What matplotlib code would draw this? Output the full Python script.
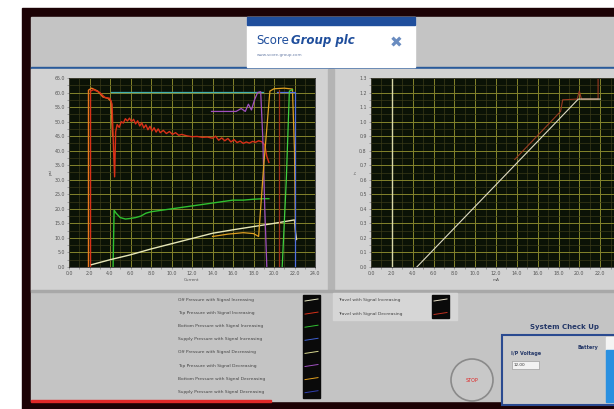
""" Recreates the valve test screen: pressure and travel plots with legends """

import matplotlib
matplotlib.use("Agg")
import matplotlib.pyplot as plt
from matplotlib.patches import Rectangle, Circle
from matplotlib.ticker import MultipleLocator

# ---- left chart: pressures vs current ----
offIncX = [1.9, 1.9, 2.2, 2.8, 3.3, 3.8, 4.1, 4.25]
offIncY = [0.0, 60.8, 61.5, 60.5, 58.5, 58.0, 57.0, 45.0]

topIncX = [2.1, 2.1, 2.4, 3.0, 3.5, 4.0, 4.2, 4.35, 4.45, 4.55, 4.7, 4.9, 5.1, 5.3, 5.5, 5.7,
           5.9, 6.1, 6.3, 6.5, 6.7, 6.9, 7.1, 7.3, 7.5, 7.7, 7.9, 8.1, 8.3, 8.5, 8.7, 8.9,
           9.2, 9.5, 9.8, 10.1, 10.4, 10.7, 11.0, 11.5, 12.0, 12.5, 13.0, 13.5, 14.0, 14.3,
           14.6, 14.9, 15.2, 15.5, 15.8, 16.1, 16.4, 16.7, 17.0, 17.3, 17.6, 17.9, 18.2,
           18.5, 18.8, 19.1, 19.3, 19.5]
topIncY = [0.0, 60.5, 61.0, 60.0, 58.3, 58.0, 56.0, 40.0, 31.0, 46.5, 49.0, 48.0, 50.0, 49.5,
           51.0, 50.2, 51.2, 50.0, 50.8, 49.2, 50.3, 48.5, 49.6, 47.8, 48.9, 47.2, 48.4,
           46.8, 47.9, 46.4, 47.5, 46.2, 47.0, 45.9, 46.6, 45.6, 46.2, 45.3, 45.6, 45.1,
           44.8, 44.9, 44.6, 44.7, 44.3, 45.0, 43.6, 44.4, 43.4, 44.2, 43.0, 43.8, 42.8,
           43.3, 42.5, 43.0, 42.6, 43.2, 42.9, 43.4, 43.1, 42.0, 38.0, 36.0]

bottomIncX = [4.3, 4.4, 4.6, 5.0, 5.5, 6.0, 6.5, 7.0, 7.5, 8.0, 9.0, 10.0, 11.0, 12.0, 13.0,
              14.0, 15.0, 16.0, 17.0, 18.0, 19.0, 19.5]
bottomIncY = [0.0, 19.5, 18.5, 17.0, 16.5, 16.7, 17.0, 17.5, 18.5, 19.0, 19.5, 20.0, 20.5,
              21.0, 21.5, 22.0, 22.5, 23.0, 23.0, 23.3, 23.5, 23.5]

supplyIncX = [4.1, 18.9]
supplyIncY = [60.2, 60.2]

offDecX = [2.2, 4.0, 6.0, 8.0, 10.0, 12.0, 14.0, 16.0, 18.0, 20.0, 22.0, 22.1, 22.2]
offDecY = [0.8, 2.5, 4.2, 6.2, 8.0, 9.8, 11.6, 12.8, 13.9, 15.0, 16.2, 12.0, 9.5]

topDecX = [13.9, 16.3, 16.8, 17.2, 17.5, 17.8, 18.1, 18.4, 18.7, 18.9, 19.1, 19.3]
topDecY = [53.5, 53.5, 54.5, 53.5, 56.0, 54.0, 57.5, 60.0, 60.3, 45.0, 20.0, 0.0]

bottomDecX = [14.0, 15.5, 17.0, 18.0, 18.5, 19.0, 19.6, 20.0, 21.0, 21.8, 22.0, 22.1]
bottomDecY = [10.5, 11.3, 11.8, 11.5, 10.5, 35.0, 60.5, 61.3, 61.5, 61.2, 40.0, 9.0]

supplyDecX = [20.3, 22.0, 22.0]
supplyDecY = [60.2, 60.2, 0.0]

greenDecX = [20.8, 21.2, 21.5, 21.8]
greenDecY = [0.0, 30.0, 60.5, 61.0]

redDecX = [20.5, 20.5]
redDecY = [61.0, 0.0]

# ---- right chart: travel vs mA ----
travelIncX = [4.4, 6.0, 8.0, 10.0, 12.0, 14.0, 16.0, 18.0, 19.9, 22.0]
travelIncY = [0.0, 0.119, 0.268, 0.417, 0.566, 0.715, 0.864, 1.013, 1.155, 1.155]

travelDecX = [13.8, 15.0, 16.2, 17.4, 18.2, 18.4, 19.8, 20.0, 20.2, 21.6, 21.8, 21.8]
travelDecY = [0.74, 0.83, 0.92, 1.01, 1.07, 1.15, 1.155, 1.21, 1.155, 1.155, 1.155, 1.30]

cursorX = [2.0, 2.0]
cursorY = [0.0, 1.3]

legendLeft = ["Off Pressure with Signal Increasing",
              "Top Pressure with Signal Increasing",
              "Bottom Pressure with Signal Increasing",
              "Supply Pressure with Signal Increasing",
              "Off Pressure with Signal Decreasing",
              "Top Pressure with Signal Decreasing",
              "Bottom Pressure with Signal Decreasing",
              "Supply Pressure with Signal Decreasing"]
legendLeftColors = ["#e8e8c0", "#d83018", "#30c030", "#4060d0",
                    "#d8d890", "#a050c0", "#e0a020", "#3040b0"]
legendRight = ["Travel with Signal Increasing", "Travel with Signal Decreasing"]
legendRightColors = ["#e8e0c8", "#c03020"]

W, H = 614, 409


def box(x0, y0, x1, y1):
    """ pixel box (top-left origin) -> figure fraction rect """
    return [x0 / W, 1 - y1 / H, (x1 - x0) / W, (y1 - y0) / H]


def styleChart(ax, ymax, ymajor, yfmt):
    ax.set_facecolor("#0b1206")
    ax.set_xlim(0, 24)
    ax.set_ylim(0, ymax)
    ax.xaxis.set_major_locator(MultipleLocator(2))
    ax.xaxis.set_minor_locator(MultipleLocator(1))
    ax.yaxis.set_major_locator(MultipleLocator(ymajor))
    ax.yaxis.set_minor_locator(MultipleLocator(ymajor / 2))
    ax.xaxis.set_major_formatter(matplotlib.ticker.FormatStrFormatter("%.1f"))
    ax.yaxis.set_major_formatter(matplotlib.ticker.FormatStrFormatter(yfmt))
    ax.grid(which="major", color="#84842c", lw=0.7)
    ax.grid(which="minor", color="#3a3a18", lw=0.5)
    ax.set_axisbelow(True)
    ax.tick_params(which="both", length=1.5, width=0.4, colors="#707070",
                   labelsize=3.4, pad=1.5, labelcolor="#555555")
    for s in ax.spines.values():
        s.set_color("#303030")
        s.set_linewidth(0.6)


fig = plt.figure(figsize=(6.14, 4.09), dpi=100)
fig.patch.set_facecolor("white")
bg = fig.add_axes([0, 0, 1, 1])
bg.set_xlim(0, W)
bg.set_ylim(H, 0)
bg.axis("off")

# frame and panels
bg.add_patch(Rectangle((22, 8), W - 22, H - 8, color="#1c0205"))
bg.add_patch(Rectangle((31, 17), W - 31, 384, color="#c4c4c4"))
bg.add_patch(Rectangle((31, 400), 240, 2, color="#e02828"))
bg.add_patch(Rectangle((31, 66.5), W - 31, 2.5, color="#2a5a9a"))
bg.add_patch(Rectangle((31, 69), 297, 221, color="#d2d2d2"))
bg.add_patch(Rectangle((334, 69), W - 334, 221, color="#d2d2d2"))
bg.add_patch(Rectangle((328, 69), 6, 221, color="#b4b4b4"))
bg.add_patch(Rectangle((31, 290), W - 31, 1.5, color="#a8a8a8"))

# logo
bg.add_patch(Rectangle((247, 17), 168, 50, color="white"))
bg.add_patch(Rectangle((247, 17), 168, 8, color="#1f4e9c"))
bg.text(256, 44, "Score", fontsize=8.5, color="#1f4e9c", va="baseline")
bg.text(291, 44, "Group plc", fontsize=8.5, color="#1f4e9c", va="baseline",
        fontweight="bold", fontstyle="italic")
bg.text(257, 56, "www.score-group.com", fontsize=3, color="#6a7fa8")
bg.text(396, 43, "\u2716", fontsize=11, color="#6a8cc0", ha="center", va="center")

# left chart
ax1 = fig.add_axes(box(69, 78, 315, 267))
styleChart(ax1, 65, 5, "%.1f")
ax1.plot(offIncX, offIncY, color="#e87820", lw=1.0)
ax1.plot(topIncX, topIncY, color="#d83018", lw=1.0)
ax1.plot(bottomIncX, bottomIncY, color="#30c030", lw=1.0)
ax1.plot(supplyIncX, supplyIncY, color="#40b0b0", lw=0.9)
ax1.plot(offDecX, offDecY, color="#e8e8b8", lw=1.0)
ax1.plot(topDecX, topDecY, color="#a050c0", lw=0.9)
ax1.plot(bottomDecX, bottomDecY, color="#e0a020", lw=0.9)
ax1.plot(supplyDecX, supplyDecY, color="#5070e0", lw=0.9)
ax1.plot(greenDecX, greenDecY, color="#40d040", lw=0.9)
ax1.plot(redDecX, redDecY, color="#a03018", lw=0.9)
ax1.set_xlabel("Current", fontsize=3, color="#555555", labelpad=1)
ax1.set_ylabel("psi", fontsize=3, color="#555555", labelpad=1)

# right chart
ax2 = fig.add_axes(box(371, 78, 621, 267))
styleChart(ax2, 1.3, 0.1, "%.1f")
ax2.set_xticks([0, 2, 4, 6, 8, 10, 12, 14, 16, 18, 20, 22])
ax2.plot(cursorX, cursorY, color="#d8d8a8", lw=1.0)
ax2.plot(travelDecX, travelDecY, color="#9a3a22", lw=0.8)
ax2.plot(travelIncX, travelIncY, color="#e0dcc4", lw=0.8)
ax2.set_xlabel("mA", fontsize=3, color="#555555", labelpad=1)
ax2.set_ylabel("in", fontsize=3, color="#555555", labelpad=1)

# legends
bg.add_patch(Rectangle((303, 295), 17, 103, color="#0a0a0a"))
for i, (name, col) in enumerate(zip(legendLeft, legendLeftColors)):
    y = 300 + i * 13.1
    bg.text(178, y, name, fontsize=3.2, color="#444444", va="center")
    bg.plot([305, 318], [y + 1, y - 1], color=col, lw=0.7)

bg.add_patch(Rectangle((333, 293), 124, 27, color="#d6d6d6"))
bg.add_patch(Rectangle((432, 295), 17, 23, color="#0a0a0a"))
for i, (name, col) in enumerate(zip(legendRight, legendRightColors)):
    y = 300 + i * 13.5
    bg.text(338, y, name, fontsize=3.2, color="#444444", va="center")
    bg.plot([434, 447], [y + 1, y - 1], color=col, lw=0.7)

# stop button
bg.add_patch(Circle((472, 380), 21, facecolor="#c8c8c8", edgecolor="#8a8a8a", lw=1.2))
bg.text(472, 381, "STOP", fontsize=3.5, color="#e02020", ha="center", va="center")

# system check up panel
bg.text(564, 327, "System Check Up", fontsize=5, color="#253868", ha="center",
        va="center", fontweight="bold")
bg.add_patch(Rectangle((502, 335), 120, 70, facecolor="#cacaca", edgecolor="#2a4a90", lw=1.5))
bg.text(511, 353, "I/P Voltage", fontsize=3.5, color="#253868", va="center", fontweight="bold")
bg.add_patch(Rectangle((512, 361), 27, 8, facecolor="#f2f2f2", edgecolor="#909090", lw=0.4))
bg.text(514, 365, "12.00", fontsize=3, color="#333333", va="center")
bg.text(577, 348, "Battery", fontsize=3.5, color="#253868", va="center", fontweight="bold")
bg.add_patch(Rectangle((606, 337), 10, 13, color="#f4f4f4"))
bg.add_patch(Rectangle((606, 350), 10, 52, color="#2a90e0"))

plt.savefig("out.png", dpi=100)
